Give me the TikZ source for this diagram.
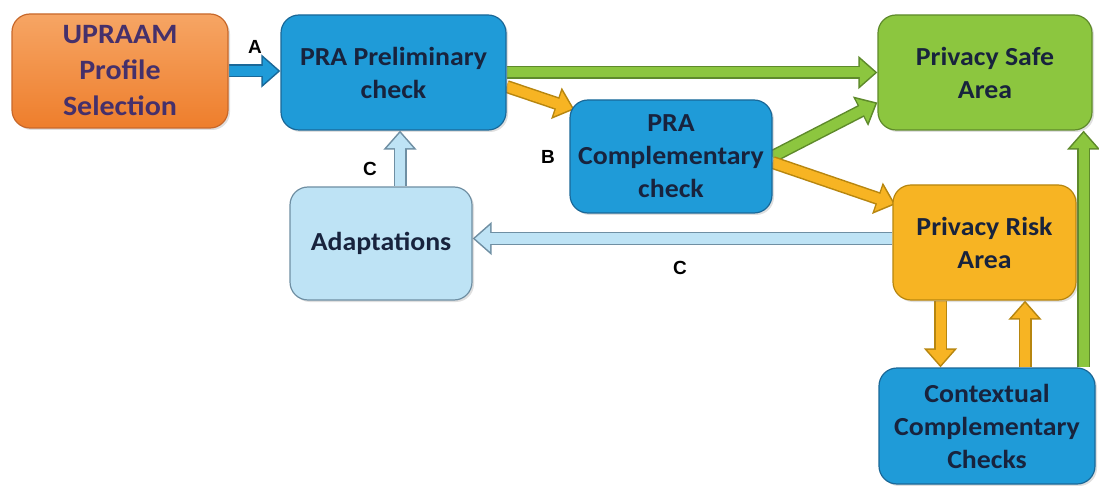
\documentclass[tikz,border=0pt]{standalone}
\usepackage{fontspec}
\setmainfont{Carlito}
\newfontfamily\boxfont{Carlito}[FakeStretch=1.07]
\newfontfamily\labfont{Liberation Sans}
\usetikzlibrary{arrows.meta,calc,shadows}
\pgfdeclarelayer{bg}\pgfdeclarelayer{arr}\pgfsetlayers{bg,arr,main}
\definecolor{navy}{HTML}{18233D}
\definecolor{purp}{HTML}{45306B}
\definecolor{bluef}{HTML}{1F9BD8}\definecolor{bluee}{HTML}{1A6898}
\definecolor{greenf}{HTML}{8CC63F}\definecolor{greene}{HTML}{5E8A2B}
\definecolor{orf}{HTML}{F7B423}\definecolor{ore}{HTML}{B7860F}
\definecolor{lbf}{HTML}{BEE3F5}\definecolor{lbe}{HTML}{6F8FA3}
\definecolor{upt}{HTML}{F6A564}\definecolor{upb}{HTML}{EE7E2C}\definecolor{upe}{HTML}{C8682A}
\newcommand\barrow[4]{%
  \draw[line width=13pt,#2,-{Triangle[width=32pt,length=19pt]}] (#3) -- (#4);
  \draw[line width=10pt,#1,shorten >=2.4pt,-{Triangle[width=25.6pt,length=15.2pt]}] (#3) -- (#4);}
\begin{document}
\begin{tikzpicture}[x=1pt,y=-1pt,
  box/.style={rounded corners=18pt,draw,line width=1.2pt,align=center,inner sep=0pt,
    font=\boxfont\bfseries\fontsize{26}{33}\selectfont,text=navy,
    drop shadow={opacity=0.25,shadow xshift=2pt,shadow yshift=-2pt}},
  lab/.style={font=\labfont\bfseries\fontsize{19}{22}\selectfont,text=black}]
\begin{pgfonlayer}{bg}\fill[white] (0,0) rectangle (1099,486);\end{pgfonlayer}
\useasboundingbox (0,0) rectangle (1099,486);
\node[box,draw=upe,top color=upt,bottom color=upb,text=purp,minimum width=216pt,minimum height=114pt,
  font=\boxfont\bfseries\fontsize{28}{36}\selectfont] (up) at (120,71) {UPRAAM\\Profile\\Selection};
\node[box,draw=bluee,fill=bluef,minimum width=225pt,minimum height=115pt] (pre) at (393.5,72.5) {PRA Preliminary\\check};
\node[box,draw=bluee,fill=bluef,minimum width=202pt,minimum height=113pt] (comp) at (671,156.5) {PRA\\Complementary\\check};
\node[box,draw=greene,fill=greenf,minimum width=214pt,minimum height=115pt] (safe) at (985,72.5) {Privacy Safe\\Area};
\node[box,draw=ore,fill=orf,minimum width=183pt,minimum height=115pt] (risk) at (984.5,242.5) {Privacy Risk\\Area};
\node[box,draw=lbe,fill=lbf,minimum width=182pt,minimum height=113pt] (adap) at (381,243.5) {Adaptations};
\node[box,draw=bluee,fill=bluef,minimum width=216pt,minimum height=116pt] (ctx) at (987,426) {Contextual\\Complementary\\Checks};
\coordinate (a0) at (up.east); \coordinate (a1) at (up.east -| pre.west);
\coordinate (g0) at (pre.east); \coordinate (g1) at (pre.east -| safe.west);
\coordinate (o0) at ($(pre.east)+(0,14)$); \coordinate (o1) at ($(comp.north west)+(5,10)$);
\coordinate (g2) at (comp.east); \coordinate (g3) at ($(safe.west)+(0,30)$);
\coordinate (o2) at ($(comp.east)+(0,6)$); \coordinate (o3) at ($(risk.north west)+(3,20)$);
\coordinate (l0) at ($(risk.west)+(0,-4)$); \coordinate (l1) at (l0 -| adap.east);
\coordinate (l2) at ($(adap.north)+(19,0)$); \coordinate (l3) at (l2 |- pre.south);
\coordinate (o4) at ($(risk.south)+(-44,0)$); \coordinate (o5) at (o4 |- ctx.north);
\coordinate (o6) at ($(ctx.north)+(38,0)$); \coordinate (o7) at (o6 |- risk.south);
\coordinate (g4) at ($(ctx.north east)+(-12,0)$); \coordinate (g5) at (g4 |- safe.south);
\begin{pgfonlayer}{arr}
\barrow{bluef}{bluee}{a0}{a1}
\barrow{greenf}{greene}{g0}{g1}
\barrow{orf}{ore}{o0}{o1}
\barrow{greenf}{greene}{g2}{g3}
\barrow{orf}{ore}{o2}{o3}
\barrow{lbf}{lbe}{l0}{l1}
\barrow{lbf}{lbe}{l2}{l3}
\barrow{orf}{ore}{o4}{o5}
\barrow{orf}{ore}{o6}{o7}
\barrow{greenf}{greene}{g4}{g5}
\end{pgfonlayer}
\node[lab] (la) at (255,47) {A};
\node[lab] (lb) at (548,157) {B};
\node[lab] (lc1) at (370,169) {C};
\node[lab] (lc2) at (680,268) {C};
\end{tikzpicture}
\end{document}
